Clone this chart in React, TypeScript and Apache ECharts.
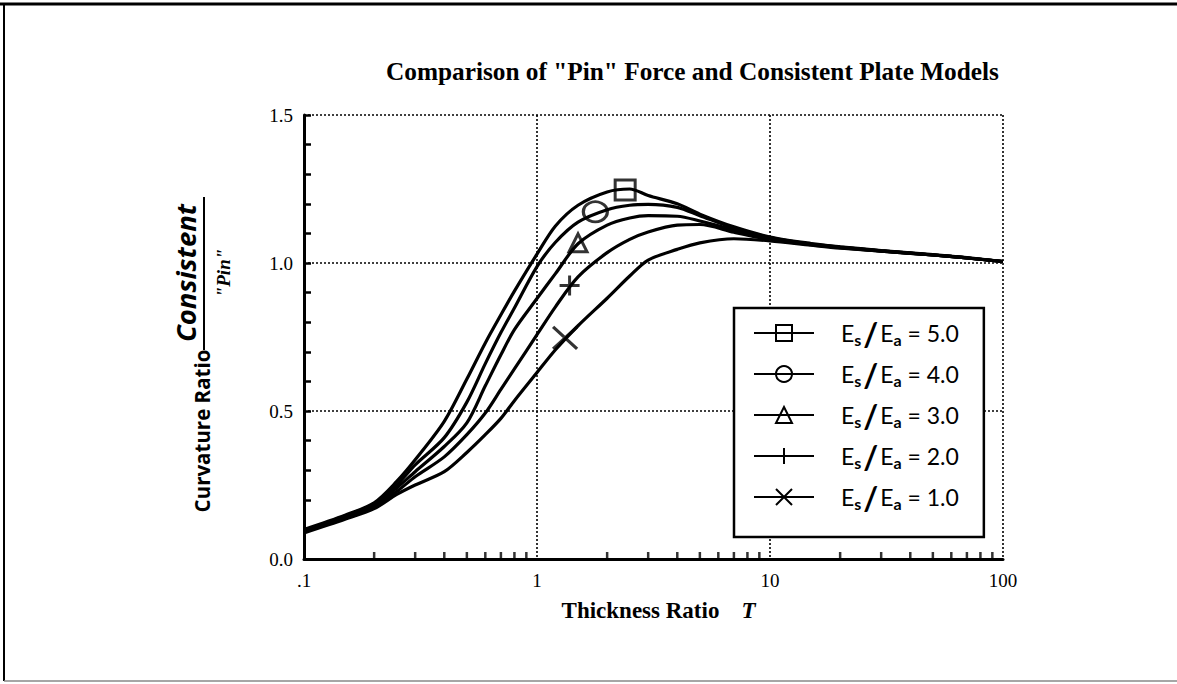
import React, { useEffect, useRef } from 'react';
import * as echarts from 'echarts';

// Thickness ratio T (log axis)
const thickness = [0.1, 0.15, 0.2, 0.25, 0.3, 0.4, 0.5, 0.6, 0.7, 0.8, 1.0, 1.2, 1.5, 2.0, 2.5, 3.0, 4.0, 5.0, 7.0, 10, 15, 20, 30, 50, 70, 100];

// Curvature ratio Consistent / "Pin" for each Es/Ea
const ratio50 = [0.100, 0.148, 0.190, 0.262, 0.335, 0.465, 0.608, 0.730, 0.825, 0.905, 1.030, 1.125, 1.195, 1.240, 1.250, 1.228, 1.200, 1.165, 1.122, 1.088, 1.066, 1.055, 1.042, 1.028, 1.018, 1.005];
const ratio40 = [0.096, 0.145, 0.186, 0.250, 0.318, 0.410, 0.530, 0.660, 0.765, 0.848, 0.988, 1.070, 1.138, 1.180, 1.195, 1.198, 1.188, 1.160, 1.118, 1.086, 1.064, 1.054, 1.041, 1.027, 1.017, 1.005];
const ratio30 = [0.094, 0.142, 0.182, 0.240, 0.295, 0.380, 0.460, 0.585, 0.690, 0.775, 0.880, 0.964, 1.065, 1.128, 1.152, 1.160, 1.158, 1.142, 1.112, 1.084, 1.063, 1.053, 1.041, 1.027, 1.017, 1.005];
const ratio20 = [0.092, 0.138, 0.177, 0.228, 0.278, 0.345, 0.420, 0.493, 0.573, 0.642, 0.758, 0.852, 0.953, 1.035, 1.080, 1.105, 1.128, 1.130, 1.104, 1.080, 1.062, 1.052, 1.040, 1.027, 1.017, 1.005];
const ratio10 = [0.088, 0.134, 0.170, 0.218, 0.250, 0.295, 0.360, 0.420, 0.475, 0.535, 0.630, 0.707, 0.788, 0.881, 0.956, 1.010, 1.046, 1.068, 1.082, 1.075, 1.060, 1.050, 1.040, 1.027, 1.017, 1.005];

const seriesNames = ['5.0', '4.0', '3.0', '2.0', '1.0'];
const seriesValues = [ratio50, ratio40, ratio30, ratio20, ratio10];

// One identifying marker per curve
const markerT = [2.39, 1.78, 1.50, 1.38, 1.32];
const markerY = [1.247, 1.173, 1.068, 0.924, 0.747];

// Minor (log) tick positions on the T axis
const minorTicksT = [0.2, 0.3, 0.4, 0.5, 0.6, 0.7, 0.8, 0.9, 2, 3, 4, 5, 6, 7, 8, 9, 20, 30, 40, 50, 60, 70, 80, 90];

const PLUS = 'path://M5,0L5,10M0,5L10,5';
const CROSS = 'path://M0,0L10,10M10,0L0,10';
const symbols = ['rect', 'circle', 'triangle', PLUS, CROSS];
const markerSizes: any[] = [[20, 20], [24, 20], [18, 18], [20, 20], [24, 22]];

const SERIF = '"Liberation Serif", "DejaVu Serif", serif';
const SANS = 'Lato, "Open Sans", sans-serif';
const WIDE = '"Open Sans", Lato, sans-serif';

export default function App() {
  const ref = useRef<HTMLDivElement>(null);
  useEffect(() => {
    if (!ref.current) return;
    const chart = echarts.init(ref.current, undefined, { renderer: 'svg' });

    const lineSeries = seriesNames.map((name, i) => ({
      name,
      type: 'line',
      data: thickness.map((t, j) => [t, seriesValues[i][j]]),
      showSymbol: false,
      symbol: symbols[i],
      smooth: 0.3,
      lineStyle: { color: '#000', width: 3.2 },
      itemStyle: { color: 'transparent', borderColor: '#000', borderWidth: 3 },
      z: 3,
    }));

    const option: any = {
      animation: false,
      backgroundColor: '#fff',
      title: {
        text: 'Comparison of "Pin" Force and Consistent Plate Models',
        left: 381,
        top: 53,
        textStyle: { fontFamily: SERIF, fontSize: 25.3, fontWeight: 'bold', color: '#000' },
      },
      grid: { left: 304, right: 174, top: 115, bottom: 125 },
      xAxis: {
        type: 'log',
        logBase: 10,
        min: 0.1,
        max: 100,
        axisLine: { show: true, lineStyle: { color: '#000', width: 3 } },
        axisTick: { show: false },
        axisLabel: {
          margin: 12,
          color: '#000',
          fontFamily: SERIF,
          fontSize: 19,
          formatter: (v: number) => (Math.abs(v - 0.1) < 1e-6 ? '.1' : String(Math.round(v))),
        },
        splitLine: { show: true, lineStyle: { color: '#000', width: 1.6, type: [2, 2] } },
        name: '{a|Thickness Ratio}{b|T}',
        nameLocation: 'middle',
        nameGap: 40,
        nameTextStyle: {
          rich: {
            a: { fontFamily: SERIF, fontWeight: 'bold', fontSize: 23, color: '#000', padding: [0, 0, 0, 10] },
            b: { fontFamily: SERIF, fontWeight: 'bold', fontStyle: 'italic', fontSize: 23, color: '#000', padding: [0, 0, 0, 22] },
          },
        },
      },
      yAxis: {
        type: 'value',
        min: 0,
        max: 1.5,
        interval: 0.5,
        axisLine: { show: true, lineStyle: { color: '#000', width: 3 } },
        axisTick: { show: true, inside: true, length: 7, lineStyle: { color: '#000', width: 2.5 } },
        minorTick: { show: true, splitNumber: 5, length: 7, lineStyle: { color: '#000', width: 2.5 } },
        axisLabel: {
          margin: 11,
          color: '#000',
          fontFamily: SERIF,
          fontSize: 19,
          formatter: (v: number) => v.toFixed(1),
        },
        splitLine: { show: true, lineStyle: { color: '#000', width: 1.6, type: [2, 2] } },
      },
      legend: {
        data: seriesNames,
        orient: 'vertical',
        left: 734,
        top: 308,
        padding: [9, 25, 24, 19],
        itemGap: 9,
        itemWidth: 60,
        itemHeight: 20,
        backgroundColor: '#fff',
        borderColor: '#000',
        borderWidth: 2.5,
        borderRadius: 0,
        selectedMode: false,
        formatter: (name: string) => `{e|E}{s|s}{sl|/}{e2|E}{s|a}{v| = ${name}}`,
        textStyle: {
          color: '#000',
          rich: {
            e: { fontFamily: SANS, fontSize: 23, color: '#000', lineHeight: 28, padding: [0, 0, 0, 22] },
            e2: { fontFamily: SANS, fontSize: 23, color: '#000', lineHeight: 28 },
            s: { fontFamily: SANS, fontSize: 16, fontWeight: 'bold', color: '#000', lineHeight: 14, verticalAlign: 'bottom' },
            sl: { fontFamily: SANS, fontSize: 32, fontWeight: 'bold', color: '#000', lineHeight: 28, padding: [0, 2, 0, 2] },
            v: { fontFamily: SANS, fontSize: 23, color: '#000', lineHeight: 28 },
          },
        },
      },
      series: [
        ...lineSeries,
        {
          name: 'markers',
          type: 'scatter',
          silent: true,
          z: 4,
          data: markerT.map((t, i) => ({ value: [t, markerY[i]], symbol: symbols[i], symbolSize: markerSizes[i] })),
          itemStyle: { color: 'transparent', borderColor: '#000', borderWidth: 3 },
        },
        {
          name: 'minorTicks',
          type: 'scatter',
          silent: true,
          z: 5,
          data: minorTicksT.map((t) => [t, 0]),
          symbol: 'rect',
          symbolSize: [2.5, 6],
          symbolOffset: [0, -4],
          itemStyle: { color: '#000' },
        },
      ],
      graphic: [
        { type: 'line', shape: { x1: 0, y1: 4, x2: 1177, y2: 4 }, style: { stroke: '#000', lineWidth: 3 } },
        { type: 'line', shape: { x1: 4, y1: 4, x2: 4, y2: 681 }, style: { stroke: '#000', lineWidth: 2 } },
        { type: 'line', shape: { x1: 4, y1: 681, x2: 1177, y2: 681 }, style: { stroke: '#888', lineWidth: 1.5 } },
        {
          type: 'text', x: 202, y: 431, rotation: Math.PI / 2,
          style: { text: 'Curvature Ratio', fontFamily: WIDE, fontWeight: 'bold', fontSize: 20.5, fill: '#000', textAlign: 'center', textVerticalAlign: 'middle' },
        },
        {
          type: 'text', x: 185, y: 273, rotation: Math.PI / 2,
          style: { text: 'Consistent', fontFamily: WIDE, fontWeight: 'bold', fontStyle: 'italic', fontSize: 27.5, fill: '#000', textAlign: 'center', textVerticalAlign: 'middle' },
        },
        { type: 'line', shape: { x1: 204, y1: 197, x2: 204, y2: 350 }, style: { stroke: '#000', lineWidth: 2 } },
        {
          type: 'text', x: 223, y: 273, rotation: Math.PI / 2,
          style: { text: '"Pin"', fontFamily: SERIF, fontWeight: 'bold', fontStyle: 'italic', fontSize: 19, fill: '#000', textAlign: 'center', textVerticalAlign: 'middle' },
        },
      ],
    };
    chart.setOption(option);
    return () => chart.dispose();
  }, []);
  return <div ref={ref} style={{ position: 'fixed', left: 0, top: 0, width: 1177, height: 684, background: '#fff' }} />;
}
